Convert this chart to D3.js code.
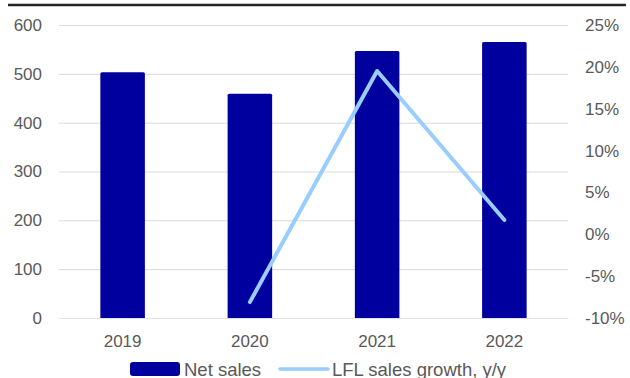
<!DOCTYPE html>
<html>
<head>
<meta charset="utf-8">
<script src="https://cdn.jsdelivr.net/npm/d3@7"></script>
<style>
  html, body { margin: 0; padding: 0; background: #fff; }
  svg { display: block; font-family: "Liberation Sans", Arial, sans-serif; }
</style>
</head>
<body>
<svg id="chart" width="630" height="378"></svg>
<script>
const years = ["2019", "2020", "2021", "2022"];
const netSales = [503, 459, 547, 565];
const lflGrowth = [null, -8.1, 19.5, 1.7];
const leftTicks = [0, 100, 200, 300, 400, 500, 600];
const rightTicks = [-10, -5, 0, 5, 10, 15, 20, 25];

const svg = d3.select("#chart");
const W = 630, H = 378;
const m = { left: 59, right: 62, top: 25, bottom: 60 };
const x0 = m.left, x1 = W - m.right, y0 = H - m.bottom, y1 = m.top;

const x = d3.scaleBand().domain(years).range([x0, x1]).paddingInner(0.65).paddingOuter(0.325);
const yL = d3.scaleLinear().domain([0, 600]).range([y0, y1]);
const yR = d3.scaleLinear().domain([-10, 25]).range([y0, y1]);

// top rule
svg.append("line").attr("x1", 8).attr("x2", 626).attr("y1", 5).attr("y2", 5)
  .attr("stroke", "#262626").attr("stroke-width", 2.5);

// gridlines
svg.append("g").selectAll("line").data(leftTicks).join("line")
  .attr("x1", x0).attr("x2", x1)
  .attr("y1", d => yL(d) + 0.5).attr("y2", d => yL(d) + 0.5)
  .attr("stroke", "#d9d9d9").attr("stroke-width", 1);

// bars
svg.append("g").selectAll("rect").data(years).join("rect")
  .attr("x", d => x(d)).attr("width", x.bandwidth())
  .attr("y", (d, i) => yL(netSales[i]))
  .attr("height", (d, i) => yL(0) - yL(netSales[i]) + 1)
  .attr("rx", 1.5)
  .attr("fill", "#00009e");

// zero line over bars
svg.append("line").attr("x1", x0).attr("x2", x1)
  .attr("y1", yL(0) + 0.5).attr("y2", yL(0) + 0.5)
  .attr("stroke", "#e0e0f0").attr("stroke-width", 1);

// growth line
const line = d3.line()
  .defined(d => d.v !== null)
  .x(d => x(d.k) + x.bandwidth() / 2)
  .y(d => yR(d.v));
svg.append("path")
  .datum(years.map((k, i) => ({ k, v: lflGrowth[i] })))
  .attr("d", line)
  .attr("fill", "none").attr("stroke", "#99ccff")
  .attr("stroke-width", 4).attr("stroke-linecap", "round").attr("stroke-linejoin", "round");

const tickStyle = sel => sel.attr("font-size", 17).attr("fill", "#595959");

// left axis
svg.append("g").selectAll("text").data(leftTicks).join("text")
  .attr("x", 42).attr("y", d => yL(d)).attr("dy", "0.35em")
  .attr("text-anchor", "end").text(d => d).call(tickStyle);

// right axis
svg.append("g").selectAll("text").data(rightTicks).join("text")
  .attr("x", 585).attr("y", d => yR(d)).attr("dy", "0.35em")
  .attr("text-anchor", "start").text(d => d + "%").call(tickStyle);

// category labels
svg.append("g").selectAll("text").data(years).join("text")
  .attr("x", d => x(d) + x.bandwidth() / 2).attr("y", 347)
  .attr("text-anchor", "middle").text(d => d).call(tickStyle);

// legend
const lg = svg.append("g");
lg.append("rect").attr("x", 130).attr("y", 362).attr("width", 50).attr("height", 14)
  .attr("rx", 3).attr("fill", "#00009e");
lg.append("text").attr("x", 184).attr("y", 376).text("Net sales")
  .attr("font-size", 18.5).attr("fill", "#595959");
lg.append("line").attr("x1", 280).attr("x2", 328).attr("y1", 369).attr("y2", 369)
  .attr("stroke", "#99ccff").attr("stroke-width", 3.5).attr("stroke-linecap", "round");
lg.append("text").attr("x", 332).attr("y", 376).text("LFL sales growth, y/y")
  .attr("font-size", 18.5).attr("fill", "#595959");
</script>
</body>
</html>
